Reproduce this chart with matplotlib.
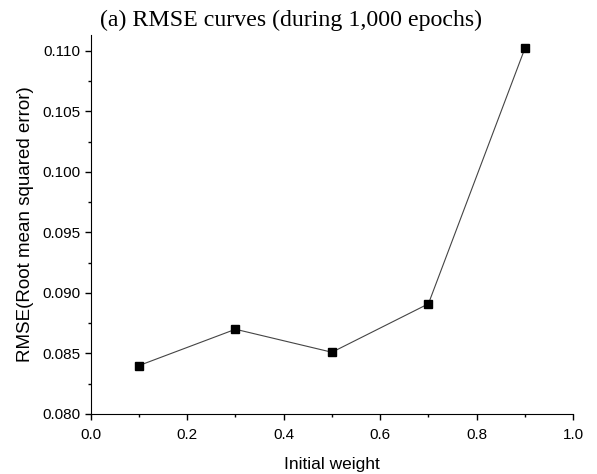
import matplotlib
matplotlib.use('Agg')
import matplotlib.pyplot as plt
from matplotlib.ticker import MultipleLocator

# valores
pesos = [0.1, 0.3, 0.5, 0.7, 0.9]
rmse = [0.0840, 0.0870, 0.0851, 0.0891, 0.1102]

plt.rcParams['font.family'] = ['Liberation Sans', 'DejaVu Sans']

fig = plt.figure(figsize=(5.97, 4.74), dpi=100)
ax = fig.add_axes([0.152, 0.1266, 0.808, 0.7994])

ax.plot(pesos, rmse, color='#444444', linewidth=0.8, marker='s',
        markersize=5.5, markerfacecolor='black', markeredgecolor='black')

ax.set_xlim(0.0, 1.0)
ax.set_ylim(0.080, 0.1113)
ax.xaxis.set_major_locator(MultipleLocator(0.2))
ax.xaxis.set_minor_locator(MultipleLocator(0.1))
ax.yaxis.set_major_locator(MultipleLocator(0.005))
ax.yaxis.set_minor_locator(MultipleLocator(0.0025))
ax.yaxis.set_major_formatter(plt.FormatStrFormatter('%.3f'))
ax.xaxis.set_major_formatter(plt.FormatStrFormatter('%.1f'))

ax.spines['top'].set_visible(False)
ax.spines['right'].set_visible(False)
ax.tick_params(which='major', direction='out', length=4, width=1, labelsize=11)
ax.tick_params(axis='x', which='major', pad=6)
ax.tick_params(which='minor', direction='out', length=2.5, width=1)

ax.set_xlabel('Initial weight', fontsize=12.5, labelpad=11)
ax.set_ylabel('RMSE(Root mean squared error)', fontsize=13.5, labelpad=6)

fig.text(0.488, 0.957, '(a) RMSE curves (during 1,000 epochs)',
         family='Liberation Serif', fontsize=17.2, ha='center', va='center')

fig.savefig('out.png', dpi=100)
